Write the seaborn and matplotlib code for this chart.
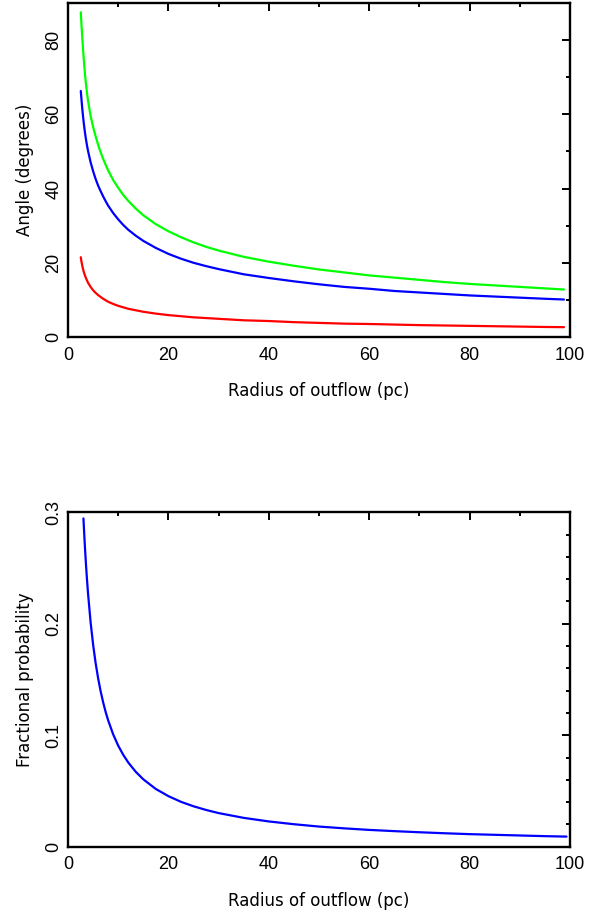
import matplotlib
matplotlib.use("Agg")
import matplotlib.pyplot as plt
import seaborn as sns
import pandas as pd
from matplotlib.ticker import MultipleLocator, FuncFormatter

# ---- data ----
radius_top = [2.55, 2.65, 2.8, 3.0, 3.2, 3.4, 3.6, 3.8, 4.0, 4.5, 5, 5.5, 6, 6.5, 7, 7.5, 8, 9, 10, 11,
              12, 13.5, 15, 17.5, 20, 22.5, 25, 27.5, 30, 35, 40, 45, 50, 55, 60, 65, 70, 75, 80, 85,
              90, 95, 98.8]
angle_green = [87.5, 85.0, 81.6, 77.5, 73.8, 70.6, 67.9, 65.6, 63.6, 59.6, 56.6, 54.1, 51.8, 49.8, 48.0,
               46.4, 44.9, 42.3, 40.2, 38.3, 36.7, 34.6, 32.8, 30.4, 28.5, 26.9, 25.5, 24.3, 23.3, 21.6,
               20.3, 19.2, 18.2, 17.4, 16.6, 16.0, 15.4, 14.8, 14.3, 13.9, 13.5, 13.1, 12.8]
angle_blue = [66.3, 64.6, 62.2, 59.4, 57.0, 54.9, 53.1, 51.5, 50.1, 47.1, 44.7, 42.6, 40.8, 39.3, 37.9,
              36.6, 35.4, 33.4, 31.7, 30.2, 28.9, 27.3, 25.9, 24.0, 22.4, 21.1, 20.0, 19.1, 18.3, 16.9,
              15.9, 15.0, 14.2, 13.5, 13.0, 12.4, 12.0, 11.6, 11.2, 10.9, 10.6, 10.3, 10.1]
angle_red = [21.5, 20.6, 19.5, 18.3, 17.3, 16.5, 15.8, 15.2, 14.6, 13.5, 12.6, 11.9, 11.3, 10.8, 10.3,
             9.9, 9.5, 8.9, 8.4, 8.0, 7.6, 7.2, 6.8, 6.3, 5.9, 5.6, 5.3, 5.1, 4.9, 4.5,
             4.3, 4.0, 3.8, 3.6, 3.5, 3.35, 3.2, 3.1, 3.0, 2.9, 2.8, 2.7, 2.65]

radius_bot = [3.08, 3.2, 3.4, 3.6, 3.8, 4.0, 4.5, 5, 5.5, 6, 6.5, 7, 7.5, 8, 9, 10, 11, 12, 13.5, 15,
              17.5, 20, 22.5, 25, 27.5, 30, 35, 40, 45, 50, 55, 60, 65, 70, 75, 80, 85, 90, 95, 99.3]
prob_blue = [0.2945, 0.2834, 0.2668, 0.2519, 0.2387, 0.2268, 0.2016, 0.1814, 0.1649, 0.1512, 0.1395,
             0.1296, 0.1209, 0.1134, 0.1008, 0.0907, 0.0825, 0.0756, 0.0672, 0.0605, 0.0518, 0.0454,
             0.0403, 0.0363, 0.0330, 0.0302, 0.0259, 0.0227, 0.0202, 0.0181, 0.0165, 0.0151, 0.0140,
             0.0130, 0.0121, 0.0113, 0.0107, 0.0101, 0.0095, 0.0091]

xlabel = "Radius of outflow (pc)"
ylabel_top = "Angle (degrees)"
ylabel_bot = "Fractional probability"

sns.set_style("white")
plt.rcParams["font.family"] = ["Liberation Sans", "DejaVu Sans"]
plt.rcParams["text.color"] = "black"
plt.rcParams["axes.labelcolor"] = "black"
plt.rcParams["xtick.color"] = "black"
plt.rcParams["ytick.color"] = "black"

fig = plt.figure(figsize=(6.06, 9.15), dpi=100)
ax1 = fig.add_axes([0.1122, 0.6317, 0.8284, 0.365])
ax2 = fig.add_axes([0.1122, 0.0746, 0.8284, 0.3655])

df_top = pd.DataFrame({
    "r": radius_top * 3,
    "angle": angle_green + angle_blue + angle_red,
    "series": ["g"] * len(radius_top) + ["b"] * len(radius_top) + ["r"] * len(radius_top),
})
sns.lineplot(data=df_top, x="r", y="angle", hue="series",
             palette={"g": "#00ff00", "b": "#0000ff", "r": "#ff0000"},
             linewidth=1.6, legend=False, ax=ax1, sort=False, estimator=None)

df_bot = pd.DataFrame({"r": radius_bot, "p": prob_blue})
sns.lineplot(data=df_bot, x="r", y="p", color="#0000ff", linewidth=1.6, ax=ax2,
             sort=False, estimator=None)

fmt = FuncFormatter(lambda v, pos: "%g" % round(v, 6))
label_font = dict(family=["DejaVu Sans"], fontsize=12, color="black")

for ax, ylim, ymaj, ymin, ylab in [(ax1, (0, 90), 20, 10, ylabel_top),
                                    (ax2, (0, 0.3), 0.1, 0.02, ylabel_bot)]:
    ax.set_xlim(0, 100)
    ax.set_ylim(*ylim)
    ax.xaxis.set_major_locator(MultipleLocator(20))
    ax.xaxis.set_minor_locator(MultipleLocator(10))
    ax.yaxis.set_major_locator(MultipleLocator(ymaj))
    ax.yaxis.set_minor_locator(MultipleLocator(ymin))
    ax.xaxis.set_major_formatter(fmt)
    ax.yaxis.set_major_formatter(fmt)
    ax.tick_params(which="both", direction="in", top=True, right=True, colors="black",
                   labelcolor="black", width=1.4)
    ax.tick_params(which="major", length=6, labelsize=13)
    ax.tick_params(axis="x", which="major", pad=7)
    ax.tick_params(axis="y", which="major", pad=4)
    ax.tick_params(which="minor", length=3)
    for lbl in ax.get_yticklabels():
        lbl.set_rotation(90)
        lbl.set_va("center")
    for sp in ax.spines.values():
        sp.set_visible(True)
        sp.set_linewidth(1.7)
        sp.set_color("black")
    ax.set_xlabel(xlabel, labelpad=13, **label_font)
    ax.set_ylabel(ylab, labelpad=8, **label_font)
    ax.grid(False)

fig.savefig("out.png", dpi=100, facecolor="white")
